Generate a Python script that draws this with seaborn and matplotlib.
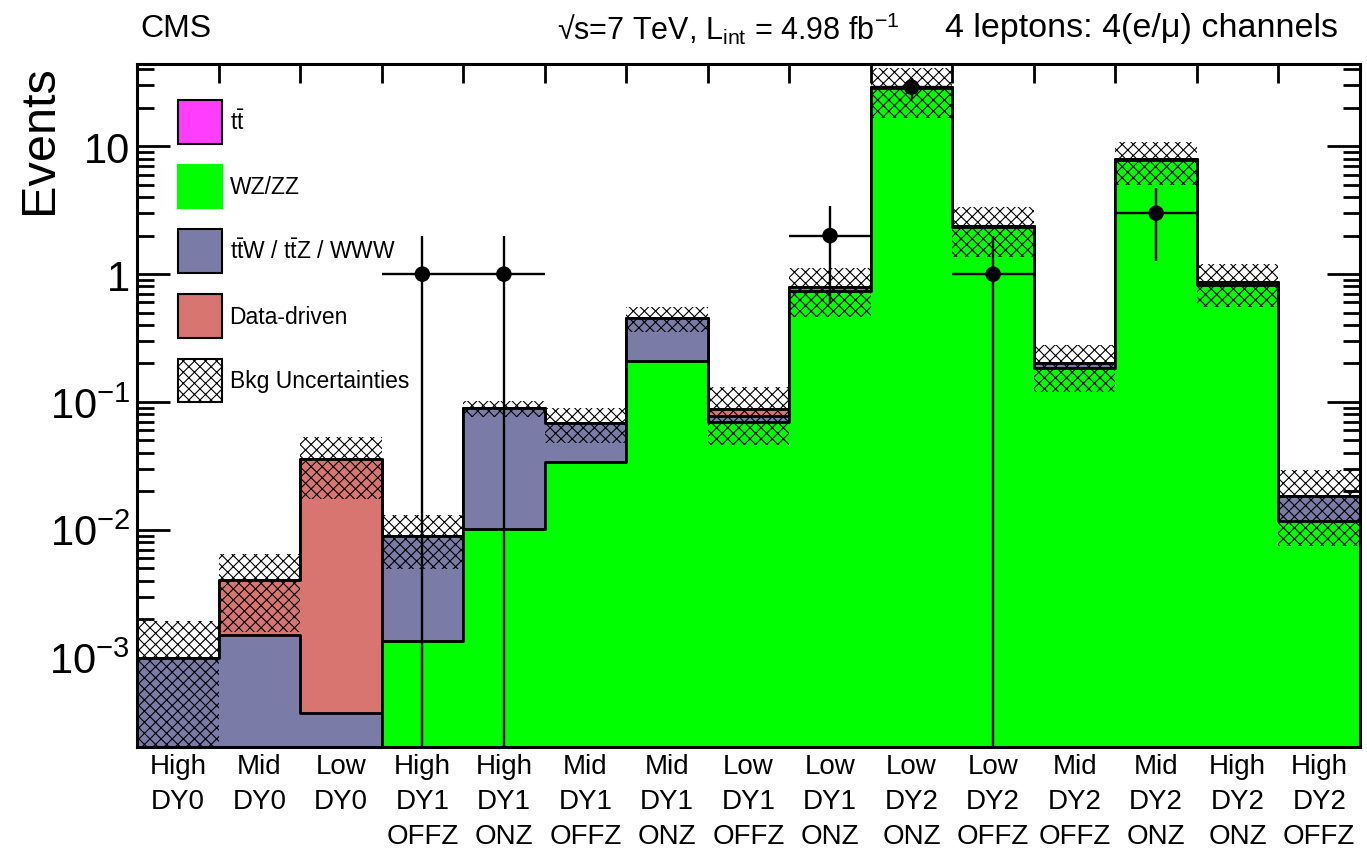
import numpy as np
import pandas as pd
import matplotlib
matplotlib.use("Agg")
import matplotlib.pyplot as plt
import seaborn as sns
from matplotlib import font_manager
from matplotlib.patches import Patch
from matplotlib.ticker import FixedLocator, FixedFormatter, NullFormatter

# ---- signal-region categories -------------------------------------------
bin_labels = [
    "High\nDY0\n", "Mid\nDY0\n", "Low\nDY0\n",
    "High\nDY1\nOFFZ", "High\nDY1\nONZ", "Mid\nDY1\nOFFZ", "Mid\nDY1\nONZ",
    "Low\nDY1\nOFFZ", "Low\nDY1\nONZ",
    "Low\nDY2\nONZ", "Low\nDY2\nOFFZ", "Mid\nDY2\nOFFZ", "Mid\nDY2\nONZ",
    "High\nDY2\nONZ", "High\nDY2\nOFFZ",
]

# ---- expected backgrounds (events) --------------------------------------
wz_zz = [0.0, 0.0, 0.0, 0.00135, 0.0102, 0.034, 0.21, 0.070, 0.74,
         28.4, 2.33, 0.185, 7.8, 0.82, 0.0118]
ttv_www = [0.0010, 0.0015, 0.00037, 0.0076, 0.079, 0.035, 0.24, 0.0075, 0.05,
           0.6, 0.04, 0.015, 0.1, 0.05, 0.0067]
data_driven = [0.0, 0.00255, 0.0351, 0.0, 0.0, 0.0, 0.0, 0.0105, 0.0,
               0.0, 0.0, 0.0, 0.0, 0.0, 0.0]
ttbar = [0.0] * 15
bkg_unc = [0.00095, 0.00245, 0.018, 0.0040, 0.013, 0.021, 0.10, 0.042, 0.33,
           12.3, 1.0, 0.08, 2.9, 0.32, 0.011]

# ---- observed events -----------------------------------------------------
data_obs = [0, 0, 0, 1, 1, 0, 0, 0, 2, 29, 1, 0, 3, 0, 0]

# ---- fonts ----------------------------------------------------------------
available = {f.name for f in font_manager.fontManager.ttflist}
narrow = "Liberation Sans Narrow" if "Liberation Sans Narrow" in available else "Liberation Sans"

sns.set_theme(style="ticks")
plt.rcParams["font.family"] = ["Liberation Sans", "DejaVu Sans"]
plt.rcParams["mathtext.fontset"] = "custom"
plt.rcParams["mathtext.rm"] = "Liberation Sans"
plt.rcParams["mathtext.it"] = "Liberation Sans:italic"
plt.rcParams["hatch.linewidth"] = 0.8
plt.rcParams["axes.linewidth"] = 2.2
for key in ("text.color", "axes.labelcolor", "xtick.color", "ytick.color",
            "axes.edgecolor"):
    plt.rcParams[key] = "black"

fig = plt.figure(figsize=(13.67, 8.54), dpi=100)
ax = fig.add_axes([137 / 1367, 1 - 748 / 854, (1360 - 137) / 1367, (748 - 65) / 854])
ax.set_yscale("log")

n = len(bin_labels)
pos = np.arange(n)                       # one integer slot per category
edges = np.arange(n + 1) - 0.5

green = "#00ff00"
blue = "#7b7ba8"
red = "#d97571"
magenta = "#ff3dff"

# cumulative stack: WZ/ZZ at the bottom, then ttW/ttZ/WWW, data-driven, ttbar
layers = [
    ("WZ/ZZ", wz_zz, green),
    ("ttV", ttv_www, blue),
    ("Data-driven", data_driven, red),
    ("ttbar", ttbar, magenta),
]
cum = np.zeros(n)
stack = []
for name, vals, col in layers:
    cum = cum + np.asarray(vals, dtype=float)
    stack.append((name, cum.copy(), col))

# draw the largest cumulative first so lower layers sit on top
for name, tot, col in reversed(stack):
    df = pd.DataFrame({"bin": pos, "events": tot})
    sns.histplot(data=df, x="bin", weights="events", discrete=True,
                 element="step", fill=True, color=col, alpha=1.0,
                 edgecolor="black", linewidth=2.0, ax=ax, zorder=2)

# background uncertainty band
total = stack[-1][1]
unc = np.asarray(bkg_unc)
lo = np.append(total - unc, (total - unc)[-1])
hi = np.append(total + unc, (total + unc)[-1])
lo = np.where(lo > 0, lo, 1e-9)
ax.fill_between(edges, lo, hi, step="post", facecolor="none",
                edgecolor="black", hatch="xxx", linewidth=0, zorder=3)

# observed data with Poisson errors
obs = np.asarray(data_obs, dtype=float)
mask = obs > 0
ax.errorbar(pos[mask], obs[mask], xerr=0.5, yerr=np.sqrt(obs[mask]),
            fmt="none", ecolor="black", elinewidth=1.7, capsize=0, zorder=5)
sns.scatterplot(x=pos[mask], y=obs[mask], color="black", s=125,
                edgecolor="none", ax=ax, zorder=6)

# ---- axes ----------------------------------------------------------------
ax.set_xlim(edges[0], edges[-1])
ax.set_ylim(2.0e-4, 44)
ax.set_xlabel("")
ax.set_ylabel("Events", fontsize=35, loc="top")
ax.yaxis.set_label_coords(-0.061, 1.0)

ax.xaxis.set_major_locator(FixedLocator(edges))
ax.xaxis.set_major_formatter(NullFormatter())
ax.xaxis.set_minor_locator(FixedLocator(pos))
ax.xaxis.set_minor_formatter(FixedFormatter(bin_labels))
ax.tick_params(axis="x", which="major", direction="in", length=14, width=2,
               top=True, bottom=True)
ax.tick_params(axis="x", which="minor", length=0, pad=4)
for lab in ax.get_xticklabels(minor=True):
    lab.set_fontfamily(narrow)
    lab.set_fontsize(20)
    lab.set_linespacing(1.47)
    lab.set_verticalalignment("top")

decades = [1e-3, 1e-2, 1e-1, 1, 10]
dec_labels = ["$10^{-3}$", "$10^{-2}$", "$10^{-1}$", "1", "10"]
minors = [m * 10.0 ** e for e in range(-4, 2) for m in range(2, 10)]
ax.yaxis.set_major_locator(FixedLocator(decades))
ax.yaxis.set_major_formatter(FixedFormatter(dec_labels))
ax.yaxis.set_minor_locator(FixedLocator(minors))
ax.yaxis.set_minor_formatter(NullFormatter())
ax.tick_params(axis="y", which="major", direction="in", length=24, width=2,
               labelsize=30, left=True, right=True, pad=5)
ax.tick_params(axis="y", which="minor", direction="in", length=12, width=2,
               left=True, right=True)
for s in ax.spines.values():
    s.set_visible(True)
    s.set_zorder(10)
    s.set_color("black")

# ---- legend ----------------------------------------------------------------
handles = [
    Patch(facecolor=magenta, edgecolor="black", linewidth=1.5),
    Patch(facecolor=green, edgecolor=green, linewidth=1.5),
    Patch(facecolor=blue, edgecolor="black", linewidth=1.5),
    Patch(facecolor=red, edgecolor="black", linewidth=1.5),
    Patch(facecolor="white", edgecolor="black", hatch="xxx", linewidth=1.5),
]
labels = [r"t$\mathregular{\bar{t}}$", "WZ/ZZ",
          r"t$\mathregular{\bar{t}}$W / t$\mathregular{\bar{t}}$Z / WWW",
          "Data-driven", "Bkg Uncertainties"]
leg = ax.legend(handles, labels, loc="upper left",
                bbox_to_anchor=(178 / 1367, 1 - 101 / 854),
                bbox_transform=fig.transFigure, frameon=False, fontsize=16.5,
                handlelength=1.9, handleheight=2.55, labelspacing=0.92,
                handletextpad=0.35, borderpad=0, borderaxespad=0)
leg.set_zorder(4)

# ---- header ------------------------------------------------------------------
fig.text(140 / 1367, 1 - 29 / 854, "CMS", fontsize=23, family=narrow, va="center")
fig.text(557 / 1367, 1 - 29 / 854,
         "√s=7 TeV, L$_{\\mathregular{int}}$ = 4.98 fb$^{\\mathregular{-1}}$",
         fontsize=22, family=[narrow, "DejaVu Sans"], va="center")
fig.text(1338 / 1367, 1 - 29 / 854, "4 leptons: 4(e/μ) channels",
         fontsize=24.5, family=[narrow, "DejaVu Sans"], va="center", ha="right")

fig.savefig("out.png", dpi=100)
